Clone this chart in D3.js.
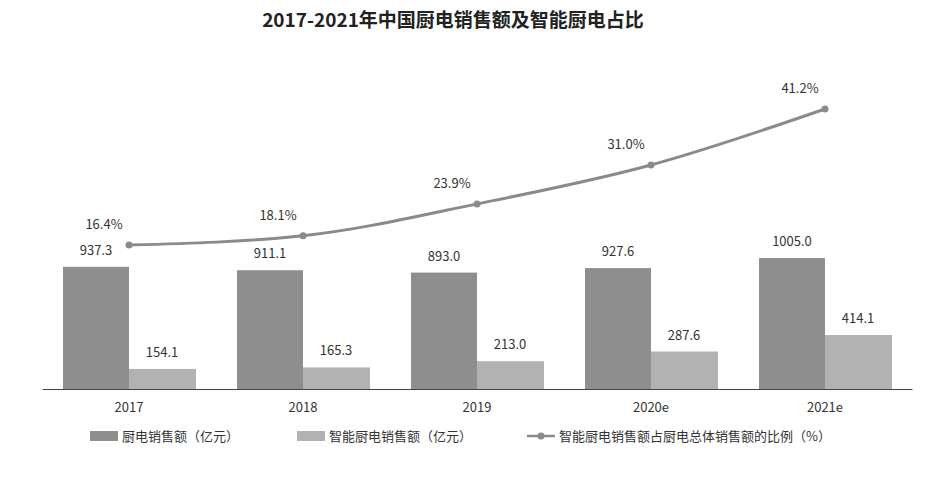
<!DOCTYPE html>
<html><head><meta charset="utf-8">
<script src="https://cdn.jsdelivr.net/npm/d3@7"></script>
<style>body{margin:0;background:#fff}</style>
</head><body><div id="chart"></div>
<script>
const years = ["2017", "2018", "2019", "2020e", "2021e"];
const kitchenSales = [937.3, 911.1, 893.0, 927.6, 1005.0];
const smartSales = [154.1, 165.3, 213.0, 287.6, 414.1];
const smartShare = [16.4, 18.1, 23.9, 31.0, 41.2];

const width = 927, height = 497;
const font = "'Noto Sans CJK SC', 'Noto Sans', sans-serif";
const svg = d3.select("#chart").append("svg")
    .attr("width", width).attr("height", height)
    .style("font-family", font);

svg.append("text").attr("x", 453).attr("y", 27).attr("text-anchor", "middle")
    .attr("font-size", 19).attr("font-weight", "bold").attr("fill", "#222")
    .text("2017-2021年中国厨电销售额及智能厨电占比");

const x = d3.scaleBand().domain(years).range([42, 912]);
const y = d3.scaleLinear().domain([0, 1005]).range([389, 258]);
const y2 = d3.scaleLinear().domain([0, 41.2]).range([335, 109]);
const bw = 66;

const xAxis = svg.append("g").attr("transform", "translate(0,389)")
    .call(d3.axisBottom(x).tickSize(0).tickPadding(14));
xAxis.select(".domain").attr("stroke", "#444");
xAxis.selectAll("text").attr("font-size", 13).attr("fill", "#333").attr("font-family", font);

const mid = d => x(d) + x.bandwidth() / 2;

svg.append("g").selectAll("rect").data(years).join("rect")
    .attr("x", d => mid(d) - bw).attr("width", bw)
    .attr("y", (d, i) => y(kitchenSales[i])).attr("height", (d, i) => 389 - y(kitchenSales[i]))
    .attr("fill", "#8e8e8e");
svg.append("g").selectAll("rect").data(years).join("rect")
    .attr("x", d => mid(d)).attr("width", bw + 1)
    .attr("y", (d, i) => y(smartSales[i])).attr("height", (d, i) => 389 - y(smartSales[i]))
    .attr("fill", "#b2b2b2");

const lab = svg.append("g").attr("font-size", 13).attr("fill", "#333").attr("text-anchor", "middle");
years.forEach((d, i) => {
    lab.append("text").attr("x", mid(d) - bw / 2).attr("y", y(kitchenSales[i]) - 12).text(kitchenSales[i].toFixed(1));
    lab.append("text").attr("x", mid(d) + bw / 2).attr("y", y(smartSales[i]) - 12).text(smartSales[i].toFixed(1));
    lab.append("text").attr("x", mid(d) - 25).attr("y", y2(smartShare[i]) - 16).text(smartShare[i].toFixed(1) + "%");
});

const line = d3.line().x((d, i) => mid(years[i])).y(d => y2(d)).curve(d3.curveMonotoneX);
svg.append("path").datum(smartShare).attr("d", line)
    .attr("fill", "none").attr("stroke", "#8a8a8a").attr("stroke-width", 3);
svg.append("g").selectAll("circle").data(smartShare).join("circle")
    .attr("cx", (d, i) => mid(years[i])).attr("cy", d => y2(d)).attr("r", 3.5).attr("fill", "#8a8a8a");

const leg = svg.append("g").attr("font-size", 13).attr("fill", "#333");
leg.append("rect").attr("x", 90).attr("y", 431).attr("width", 28).attr("height", 10).attr("fill", "#8e8e8e");
leg.append("text").attr("x", 122).attr("y", 441).text("厨电销售额（亿元）");
leg.append("rect").attr("x", 297).attr("y", 431).attr("width", 28).attr("height", 10).attr("fill", "#b2b2b2");
leg.append("text").attr("x", 329).attr("y", 441).text("智能厨电销售额（亿元）");
leg.append("line").attr("x1", 527).attr("x2", 555).attr("y1", 436).attr("y2", 436).attr("stroke", "#8a8a8a").attr("stroke-width", 2.5);
leg.append("circle").attr("cx", 541).attr("cy", 436).attr("r", 3.5).attr("fill", "#8a8a8a");
leg.append("text").attr("x", 559).attr("y", 441).text("智能厨电销售额占厨电总体销售额的比例（%）");
</script></body></html>
